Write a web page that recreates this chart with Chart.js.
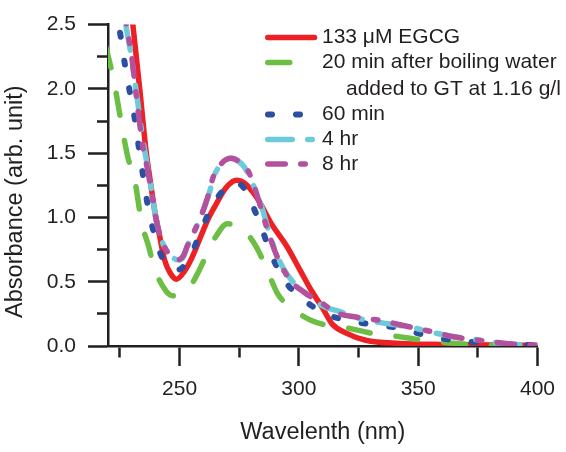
<!DOCTYPE html>
<html>
<head>
<meta charset="utf-8">
<title>Absorbance vs wavelength</title>
<script src="https://cdn.jsdelivr.net/npm/chart.js@4.4.1/dist/chart.umd.min.js"></script>
<style>
    html, body { margin: 0; padding: 0; background: #ffffff; }
    canvas { display: block; }
</style>
</head>
<body>
<canvas id="chart_absorbance" width="566" height="452"></canvas>
<script>
// Series labels (second entry wraps onto two lines)
const seriesLabels = [
    "133 \u03bcM EGCG",
    ["20 min after boiling water", "added to GT at 1.16 g/l"],
    "60 min",
    "4 hr",
    "8 hr"
];

// 133 uM EGCG
const wlEgcg = [230, 233.3, 236, 237.5, 239.6, 241.6, 243.7, 246, 248.7, 252, 255, 258.4, 262, 265.5, 269, 272.2, 274, 277, 282.2, 288.5, 294.8, 300.2, 305.6, 309.8, 314, 319.8, 328, 342, 360, 380, 400];
const absEgcg = [2.57, 2.0, 1.51, 1.31, 1.05, 0.86, 0.67, 0.57, 0.52, 0.58, 0.68, 0.83, 0.99, 1.11, 1.22, 1.28, 1.29, 1.27, 1.16, 0.95, 0.78, 0.60, 0.42, 0.30, 0.17, 0.10, 0.045, 0.02, 0.012, 0.008, 0.005];

// 20 min after boiling water added to GT
const wl20min = [219, 220, 222.9, 225.4, 228.3, 231.2, 234.1, 237.1, 239.5, 242.5, 245.8, 247.9, 251.5, 255, 258, 261.3, 265.5, 270, 275.9, 282.2, 287.6, 291, 295, 300.2, 305, 309.8, 320.3, 330.3, 340.8, 350, 360, 369, 380, 400];
const abs20min = [2.33, 2.26, 2.02, 1.75, 1.47, 1.29, 0.96, 0.77, 0.60, 0.48, 0.40, 0.39, 0.42, 0.48, 0.58, 0.71, 0.86, 0.95, 0.92, 0.77, 0.55, 0.41, 0.32, 0.25, 0.20, 0.17, 0.14, 0.10, 0.076, 0.05, 0.03, 0.015, 0.006, 0.003];

// 60 min
const wl60min = [223, 225.2, 227, 229.1, 231.2, 232.8, 234.5, 236.6, 238.7, 242.4, 245.5, 248.5, 251.2, 254.5, 257.6, 262.6, 266.5, 270, 273, 276.5, 280, 284.7, 288.9, 295.2, 300, 305.6, 311, 317.7, 329.4, 342, 353.3, 365, 378.4, 390, 400];
const abs60min = [2.65, 2.42, 2.20, 1.98, 1.77, 1.56, 1.35, 1.10, 0.92, 0.70, 0.62, 0.59, 0.61, 0.70, 0.83, 1.05, 1.17, 1.24, 1.27, 1.24, 1.12, 0.90, 0.69, 0.48, 0.39, 0.31, 0.25, 0.21, 0.17, 0.14, 0.083, 0.045, 0.023, 0.012, 0.005];

// 4 hr
const wl4hr = [224, 227, 229.5, 232, 234.5, 236.5, 238.5, 240, 241.8, 244, 246.5, 249.2, 251.5, 253.3, 257.1, 260.4, 262.6, 264, 267.6, 271.8, 274.5, 277.2, 281.4, 284.3, 286.8, 289.7, 293, 297, 301, 305.7, 310, 317, 324, 335, 347.5, 356, 365.9, 372.5, 378.4, 388, 400];
const abs4hr = [2.95, 2.55, 2.28, 1.96, 1.62, 1.40, 1.18, 1.00, 0.86, 0.76, 0.70, 0.67, 0.69, 0.78, 0.93, 1.08, 1.20, 1.30, 1.42, 1.46, 1.44, 1.39, 1.23, 1.09, 0.93, 0.76, 0.62, 0.51, 0.44, 0.37, 0.31, 0.27, 0.22, 0.18, 0.144, 0.105, 0.07, 0.055, 0.038, 0.015, 0.005];

// 8 hr
const wl8hr = [224, 227.7, 229.8, 231.9, 234.5, 236.5, 238.5, 240, 241.8, 244, 246.5, 249.2, 251.5, 253.3, 257.1, 260.4, 262.6, 264, 267.6, 271.5, 274.5, 278.5, 282, 286.4, 291, 296, 302, 310, 315.6, 324, 333.6, 347.5, 356, 365.9, 378.4, 388, 400];
const abs8hr = [3.05, 2.5, 2.27, 1.94, 1.56, 1.38, 1.17, 1.00, 0.86, 0.76, 0.70, 0.67, 0.70, 0.78, 0.93, 1.08, 1.21, 1.31, 1.42, 1.46, 1.44, 1.37, 1.20, 0.93, 0.69, 0.52, 0.42, 0.33, 0.26, 0.225, 0.20, 0.144, 0.11, 0.068, 0.038, 0.018, 0.005];

const INK = "#231f20";
const FONT = "'Liberation Sans', Arial, Helvetica, sans-serif";

function toPoints(xs, ys) {
    return xs.map((x, i) => ({ x: x, y: ys[i] }));
}

function isMajor(value, step) {
    let q = value / step;
    return Math.abs(q - Math.round(q)) < 1e-6;
}

// Draws the legend at the upper right; line samples reuse each dataset's style
const sideLegend = {
    id: "sideLegend",
    afterDraw(chart) {
        let c = chart.ctx;
        let rowY = [37.5, 62.5, 114.5, 139.5, 164];
        let wrapGap = 26.5;
        chart.data.datasets.forEach((ds, i) => {
            let y = rowY[i];
            c.save();
            c.strokeStyle = ds.borderColor;
            c.lineWidth = ds.borderWidth;
            c.lineCap = ds.borderCapStyle || "butt";
            c.setLineDash(ds.borderDash || []);
            c.beginPath();
            c.moveTo(265 + ds.borderWidth / 2, y);
            c.lineTo(314.5, y);
            c.stroke();
            c.restore();

            c.save();
            c.fillStyle = INK;
            c.font = "21px " + FONT;
            c.textBaseline = "middle";
            c.textAlign = "left";
            let label = seriesLabels[i];
            if (Array.isArray(label)) {
                c.fillText(label[0], 322, y);
                c.fillText(label[1], 346, y + wrapGap);
            } else {
                c.fillText(label, 322, y);
            }
            c.restore();
        });
    }
};

function renderChart() {
    let canvas = document.getElementById("chart_absorbance");
    let ctx = canvas.getContext("2d");

    let datasets = [
        { label: "133 uM EGCG", data: toPoints(wlEgcg, absEgcg), borderColor: "#ed2024", borderWidth: 5.5, borderCapStyle: "round", borderDash: [], order: 5 },
        { label: "20 min", data: toPoints(wl20min, abs20min), borderColor: "#6cbe45", borderWidth: 5.5, borderCapStyle: "round", borderDash: [22, 26], order: 4 },
        { label: "60 min", data: toPoints(wl60min, abs60min), borderColor: "#2d4fa1", borderWidth: 6, borderCapStyle: "round", borderDash: [4, 24], order: 3 },
        { label: "4 hr", data: toPoints(wl4hr, abs4hr), borderColor: "#6dcadb", borderWidth: 5.5, borderCapStyle: "round", borderDash: [24.5, 15.5, 4.5, 15.5], order: 2 },
        { label: "8 hr", data: toPoints(wl8hr, abs8hr), borderColor: "#b4519f", borderWidth: 5.5, borderCapStyle: "round", borderDash: [17.5, 15.5, 4.5, 15.5], order: 1 }
    ];

    datasets.forEach(ds => {
        ds.pointRadius = 0;
        ds.fill = false;
        ds.cubicInterpolationMode = "monotone";
        ds.borderJoinStyle = "round";
    });

    new Chart(ctx, {
        type: "line",
        data: { datasets: datasets },
        options: {
            responsive: false,
            animation: false,
            devicePixelRatio: 1,
            layout: { padding: { top: 16, right: 26, bottom: 0, left: 0 } },
            plugins: { legend: { display: false }, tooltip: { enabled: false } },
            scales: {
                x: {
                    type: "linear",
                    position: "bottom",
                    min: 220,
                    max: 400,
                    afterFit: s => { s.height = 106; },
                    border: { color: INK, width: 2.5 },
                    grid: {
                        drawOnChartArea: false,
                        tickLength: 20,
                        tickWidth: 2.5,
                        tickColor: INK,
                        tickBorderDash: c => isMajor(c.tick.value, 50) ? [] : [10, 40]
                    },
                    ticks: {
                        stepSize: 25,
                        includeBounds: false,
                        autoSkip: false,
                        maxRotation: 0,
                        padding: 11,
                        color: INK,
                        font: { family: FONT, size: 21 },
                        callback: v => isMajor(v, 50) ? String(v) : ""
                    },
                    title: {
                        display: true,
                        text: "Wavelenth (nm)",
                        color: INK,
                        font: { family: FONT, size: 23.5 },
                        padding: { top: 0, bottom: 5.5 }
                    }
                },
                y: {
                    type: "linear",
                    position: "left",
                    min: 0,
                    max: 2.5,
                    afterFit: s => { s.width = 108; },
                    border: { color: INK, width: 2.5 },
                    grid: {
                        drawOnChartArea: false,
                        tickLength: 20,
                        tickWidth: 2.5,
                        tickColor: INK,
                        tickBorderDash: c => isMajor(c.tick.value, 0.5) ? [] : [0, 9, 20, 0]
                    },
                    ticks: {
                        stepSize: 0.25,
                        autoSkip: false,
                        padding: 12,
                        color: INK,
                        font: { family: FONT, size: 21 },
                        callback: v => isMajor(v, 0.5) ? v.toFixed(1) : ""
                    },
                    title: {
                        display: true,
                        // trailing spaces nudge the rotated title down to sit as in the source figure
                        text: "Absorbance (arb. unit)     ",
                        color: INK,
                        font: { family: FONT, size: 23.5 },
                        padding: { top: 1.5, bottom: 0 }
                    }
                }
            }
        },
        plugins: [sideLegend]
    });
}

document.addEventListener("DOMContentLoaded", renderChart);
</script>
</body>
</html>
